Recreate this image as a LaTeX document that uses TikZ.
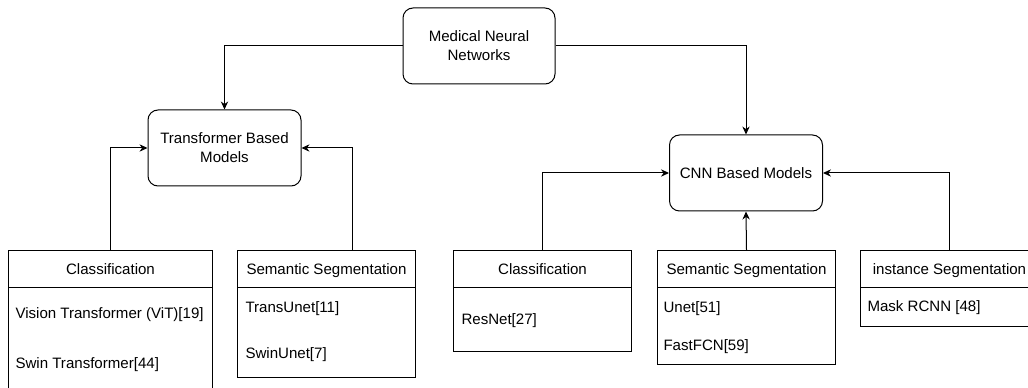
\documentclass[tikz,border=0pt]{standalone}
\usepackage{fontspec}
\setmainfont{Liberation Sans}
\usepackage{tikz}
\usetikzlibrary{arrows.meta}

\begin{document}
\begin{tikzpicture}[x=0.75pt, y=-0.75pt, line width=0.75pt,
    font=\fontsize{11.3}{14.25}\selectfont,
    model/.style={draw, rounded corners=7.5pt, align=center, minimum width=114.75pt, minimum height=57pt, inner sep=0pt},
    head/.style={draw, minimum width=133.5pt, minimum height=27.75pt, inner sep=0pt, text height=8pt, text depth=0pt, anchor=north west},
    body/.style={draw, minimum width=133.5pt, inner sep=0pt, anchor=north west},
    item/.style={anchor=west, inner sep=0pt, text height=8pt, text depth=0pt},
    link/.style={-{Stealth[length=6pt, width=5.5pt]}}]
    \clip (0, 0) rectangle (1028, 388);

    \node[model, minimum width=114pt] (mnn) at (479, 46) {Medical Neural\\Networks};
    \node[model] (tbm) at (224.5, 148) {Transformer Based\\Models};
    \node[model] (cbm) at (746, 173) {CNN Based Models};

    \node[head, minimum width=153pt] (clsTh) at (8, 250) {Classification};
    \node[body, minimum width=153pt, minimum height=90pt] (clsTb) at (8, 287) {};
    \node[item] (vit) at (15, 313) {Vision Transformer (ViT)[19]};
    \node[item] (swin) at (15, 363) {Swin Transformer[44]};

    \node[head] (semTh) at (237, 250) {Semantic Segmentation};
    \node[body, minimum height=67.5pt] (semTb) at (237, 287) {};
    \node[item] (tunet) at (245, 307) {TransUnet[11]};
    \node[item] (sunet) at (245, 353) {SwinUnet[7]};

    \node[head] (clsCh) at (453, 250) {Classification};
    \node[body, minimum height=48pt] (clsCb) at (453, 287) {};
    \node[item] (resnet) at (461, 319) {ResNet[27]};

    \node[head] (semCh) at (657, 250) {Semantic Segmentation};
    \node[body, minimum height=57.75pt] (semCb) at (657, 287) {};
    \node[item] (unet) at (663, 307) {Unet[51]};
    \node[item] (ffcn) at (663, 345) {FastFCN[59]};

    \node[head] (insCh) at (860, 250) {instance Segmentation};
    \node[body, minimum height=29.25pt] (insCb) at (860, 287) {};
    \node[item] (mrcnn) at (867, 306) {Mask RCNN [48]};

    \draw[link] (mnn.west) -| (tbm.north);
    \draw[link] (mnn.east) -| (cbm.north);
    \draw[link] (clsTh.north) |- (tbm.west);
    \draw[link] ([xshift=19.5pt]semTh.north) |- (tbm.east);
    \draw[link] (clsCh.north) |- (cbm.west);
    \draw[link] (semCh.north) -- (cbm.south);
    \draw[link] (insCh.north) |- (cbm.east);
  \end{tikzpicture}
\end{document}
